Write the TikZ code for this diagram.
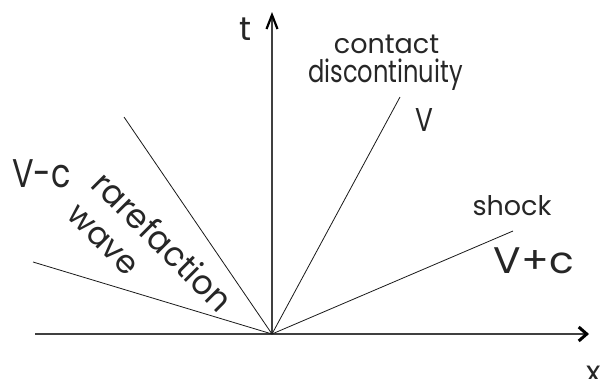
\documentclass[tikz,border=0pt]{standalone}
\usepackage{fontspec}
\setmainfont{Poppins}
\usetikzlibrary{arrows.meta}
\newcommand{\lbltext}[3]{\fontsize{#1}{#1}\selectfont\scalebox{#2}[1]{#3}}
\begin{document}
\begin{tikzpicture}[x=1pt,y=1pt,
  ray/.style={line width=0.8pt, draw=black!90},
  axis/.style={line width=1.4pt, draw=black!75},
  lbl/.style={inner sep=0pt, text=black!85, anchor=base},
  slant/.style={inner sep=0pt, text=black!85, rotate=-45}]
\useasboundingbox (0,0) rectangle (602,-378);
\coordinate (O) at (272,-334);
\coordinate (xl) at (35,-334);
\coordinate (xr) at (589,-334);
\coordinate (tt) at (272,-12);
\coordinate (r1) at (33,-262);
\coordinate (r2) at (124,-117);
\coordinate (r3) at (400,-97);
\coordinate (r4) at (513,-231);
\draw[axis, -{Straight Barb[length=8pt,width=14pt,line width=3pt,black]}] (xl) -- (xr);
\draw[axis, -{Straight Barb[length=14pt,width=11pt,line width=2.2pt,black]}] (O) -- (tt);
\draw[ray] (O) -- (r1);
\draw[ray] (O) -- (r2);
\draw[ray] (O) -- (r3);
\draw[ray] (O) -- (r4);
\node[lbl] (tl) at (246,-40) {\lbltext{33}{1}{t}};
\node[lbl] (xlab) at (594,-382) {\lbltext{30}{1}{x}};
\node[lbl] (contact) at (386.5,-53) {\lbltext{27}{1}{contact}};
\node[lbl] (disc) at (385.5,-82) {\lbltext{31}{0.78}{discontinuity}};
\node[lbl] (V) at (424,-131) {\lbltext{33}{0.8}{V}};
\node[lbl] (shock) at (512,-215) {\lbltext{27}{1}{shock}};
\node[lbl] (Vpc) at (534,-273) {\lbltext{37}{1.1}{V+c}};
\node[lbl] (Vmc) at (41.5,-187) {\lbltext{40}{0.8}{V-c}};
\node[slant] (rare) at (163,-241) {\lbltext{34}{0.96}{rarefaction}};
\node[slant] (wave) at (102,-241) {\lbltext{32}{1}{wave}};
\end{tikzpicture}
\end{document}
